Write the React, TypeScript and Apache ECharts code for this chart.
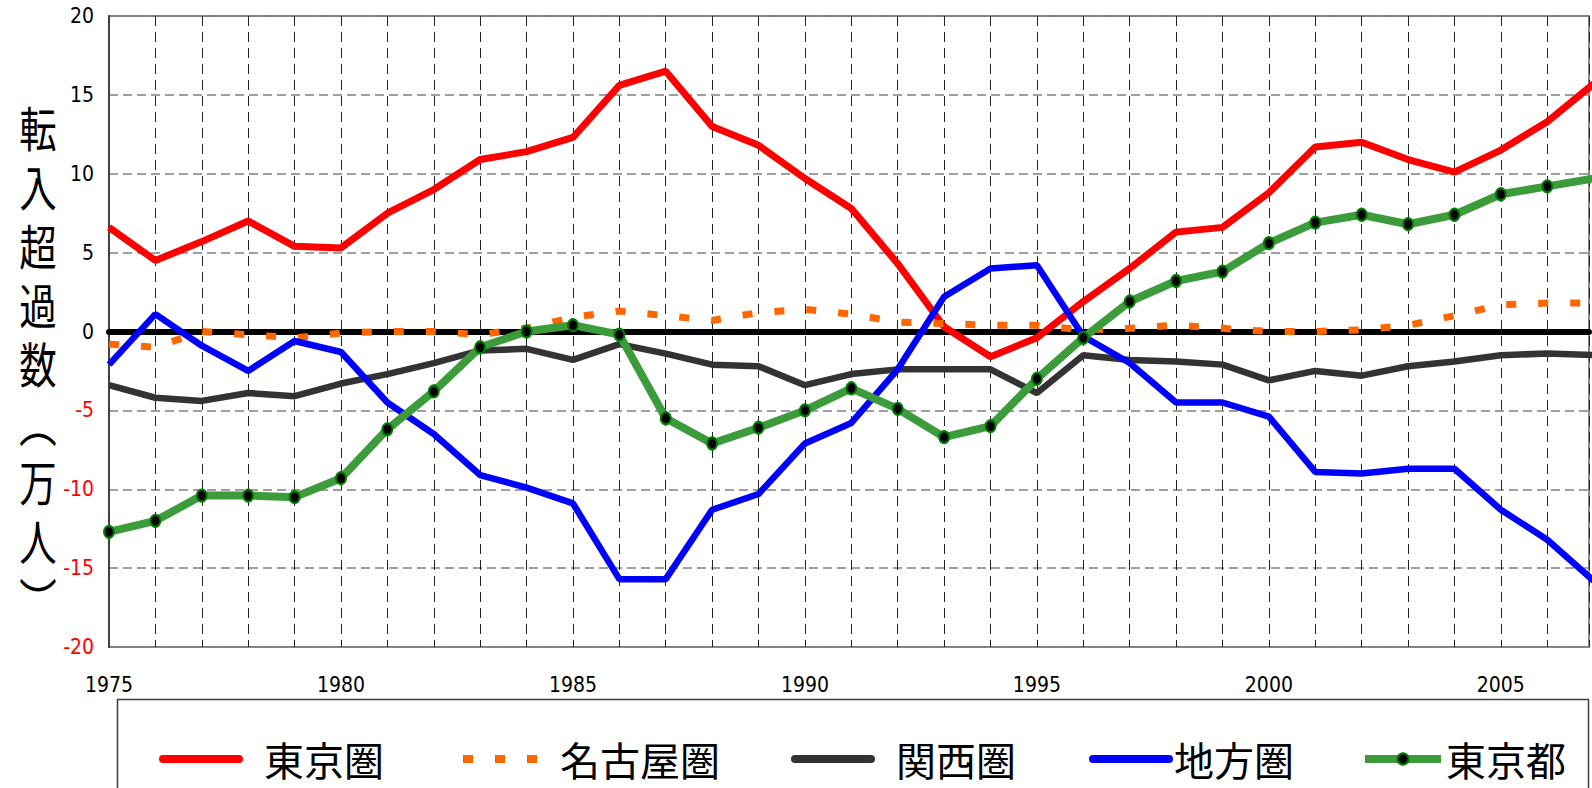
import React, { useEffect, useRef } from "react";
import * as echarts from "echarts";

const years = [1975, 1976, 1977, 1978, 1979, 1980, 1981, 1982, 1983, 1984, 1985, 1986, 1987, 1988, 1989, 1990, 1991, 1992, 1993, 1994, 1995, 1996, 1997, 1998, 1999, 2000, 2001, 2002, 2003, 2004, 2005, 2006, 2007];

const tokyoKen = [6.6, 4.5, 5.7, 7.0, 5.4, 5.3, 7.5, 9.0, 10.9, 11.4, 12.3, 15.6, 16.5, 13.0, 11.8, 9.7, 7.8, 4.3, 0.3, -1.6, -0.4, 1.9, 4.0, 6.3, 6.6, 8.8, 11.7, 12.0, 10.9, 10.1, 11.5, 13.3, 15.7];
const nagoyaKen = [-0.8, -1.0, 0.0, -0.2, -0.4, -0.1, 0.0, 0.0, -0.2, 0.2, 0.9, 1.3, 1.0, 0.7, 1.2, 1.4, 1.1, 0.6, 0.5, 0.4, 0.4, 0.1, 0.2, 0.4, 0.2, 0.0, 0.0, 0.1, 0.4, 1.0, 1.7, 1.8, 1.8];
const kansaiKen = [-3.4, -4.2, -4.4, -3.9, -4.1, -3.3, -2.7, -2.0, -1.2, -1.1, -1.8, -0.8, -1.4, -2.1, -2.2, -3.4, -2.7, -2.4, -2.4, -2.4, -3.9, -1.5, -1.8, -1.9, -2.1, -3.1, -2.5, -2.8, -2.2, -1.9, -1.5, -1.4, -1.5];
const chihoKen = [-2.1, 1.1, -0.9, -2.5, -0.6, -1.3, -4.5, -6.5, -9.1, -9.9, -10.9, -15.7, -15.7, -11.3, -10.3, -7.1, -5.8, -2.4, 2.2, 4.0, 4.2, -0.3, -2.0, -4.5, -4.5, -5.4, -8.9, -9.0, -8.7, -8.7, -11.3, -13.2, -15.8];
const tokyoTo = [-12.7, -12.0, -10.4, -10.4, -10.5, -9.3, -6.2, -3.8, -1.0, 0.0, 0.4, -0.2, -5.5, -7.1, -6.1, -5.0, -3.6, -4.9, -6.7, -6.0, -3.0, -0.4, 1.9, 3.2, 3.8, 5.6, 6.9, 7.4, 6.8, 7.4, 8.7, 9.2, 9.7];

const seriesNames = ["東京圏", "名古屋圏", "関西圏", "地方圏", "東京都"];
const yTitleChars = ["転", "入", "超", "過", "数", "︵", "万", "人", "︶"];

const numFont = "'Liberation Sans Narrow', 'DejaVu Sans Condensed', 'Liberation Sans', sans-serif";
const jpFont = "'Noto Sans CJK JP', 'Noto Sans', sans-serif";

const pairs = (vals: number[]) => years.map((y, i) => [y, vals[i]]);

export default function App() {
  const ref = useRef<HTMLDivElement>(null);
  useEffect(() => {
    if (!ref.current) return;
    const chart = echarts.init(ref.current, null, { renderer: "svg" });

    const legendBase = (name: string, left: number, gap: number, extra: any = {}) => ({
      show: true,
      data: [{ name, ...(extra.item || {}) }],
      left,
      top: 739,
      orient: "horizontal",
      padding: 0,
      itemWidth: 76,
      itemHeight: 14,
      selectedMode: false,
      lineStyle: extra.lineStyle || { width: 8, cap: "round" },
      formatter: gap > 0 ? "{g|}{t|{name}}" : "{t|{name}}",
      textStyle: {
        fontSize: 40,
        fontFamily: jpFont,
        color: "#000",
        rich: {
          g: { width: gap, height: 10 },
          t: { fontSize: 40, fontFamily: jpFont, color: "#000" },
        },
      },
    });

    const hideSym = { itemStyle: { opacity: 0 } };

    const option: any = {
      animation: false,
      backgroundColor: "#ffffff",
      grid: {
        left: 109,
        top: 16,
        right: -4,
        bottom: 141,
        show: true,
        borderColor: "#888888",
        borderWidth: 2,
        backgroundColor: "transparent",
      },
      xAxis: [
        {
          type: "value",
          min: 1975,
          max: 2006.9,
          interval: 1,
          axisLine: { show: false, onZero: false },
          axisTick: { show: false },
          axisLabel: {
            formatter: (v: number) => (Math.abs(v % 5) < 1e-9 ? String(v) : ""),
            margin: 27,
            fontSize: 21,
            fontFamily: numFont,
            color: "#000",
          },
          splitLine: { show: true, lineStyle: { color: "#222222", type: [10, 6], width: 1 } },
        },
        {
          type: "value",
          min: 1975,
          max: 2006.9,
          position: "top",
          axisLine: { show: true, onZero: true, lineStyle: { color: "#000000", width: 6 } },
          axisTick: { show: false },
          axisLabel: { show: false },
          splitLine: { show: false },
        },
      ],
      yAxis: {
        type: "value",
        min: -20,
        max: 20,
        interval: 5,
        axisLine: { show: true, onZero: false, lineStyle: { color: "#404040", width: 2 } },
        axisTick: { show: false },
        axisLabel: {
          margin: 15,
          fontSize: 21,
          fontFamily: numFont,
          color: (v: any) => (parseFloat(v) < 0 ? "#ff0000" : "#000000"),
          padding: [6, 0, 0, 0],
        },
        splitLine: { show: true, lineStyle: { color: "#808080", type: [9, 5], width: 1.5 } },
      },
      legend: [
        legendBase(seriesNames[0], 159, 20, { item: hideSym }),
        legendBase(seriesNames[1], 459, 16, { item: hideSym, lineStyle: { width: 8, cap: "butt" } }),
        legendBase(seriesNames[2], 791, 20, { item: hideSym }),
        legendBase(seriesNames[3], 1089, 0, { item: hideSym }),
        legendBase(seriesNames[4], 1361, 0, { lineStyle: { width: 8, cap: "butt" } }),
      ],
      graphic: [
        {
          type: "polyline",
          silent: true,
          z: -1,
          shape: { points: [[117.5, 788], [117.5, 699.5], [1588.5, 699.5], [1588.5, 788]] },
          style: { fill: "none", stroke: "#404040", lineWidth: 1.5 },
        },
        {
          type: "text",
          silent: true,
          x: 38,
          y: 96,
          scaleX: 0.78,
          style: {
            text: yTitleChars.join("\n"),
            fontSize: 48,
            fontFamily: jpFont,
            fill: "#000",
            align: "center",
            verticalAlign: "top",
            lineHeight: 59,
          },
        },
      ],
      series: [
        {
          name: seriesNames[0],
          type: "line",
          data: pairs(tokyoKen),
          symbol: "none",
          color: "#ff0000",
          lineStyle: { color: "#ff0000", width: 7 },
          z: 3,
        },
        {
          name: seriesNames[1],
          type: "line",
          data: pairs(nagoyaKen),
          symbol: "none",
          color: "#ff6600",
          lineStyle: { color: "#ff6600", width: 7, type: [10, 22], cap: "butt" },
          z: 3,
        },
        {
          name: seriesNames[2],
          type: "line",
          data: pairs(kansaiKen),
          symbol: "none",
          color: "#333333",
          lineStyle: { color: "#333333", width: 6.5 },
          z: 3,
        },
        {
          name: seriesNames[3],
          type: "line",
          data: pairs(chihoKen),
          symbol: "none",
          color: "#0000ff",
          lineStyle: { color: "#0000ff", width: 6.5 },
          z: 3,
        },
        {
          name: seriesNames[4],
          type: "line",
          data: pairs(tokyoTo),
          symbol: "circle",
          symbolSize: [10, 12],
          showSymbol: true,
          color: "#000000",
          itemStyle: { color: "#000000", borderColor: "#008000", borderWidth: 2 },
          lineStyle: { color: "#3c9c3c", width: 8 },
          z: 4,
        },
      ],
    };

    chart.setOption(option);
    return () => chart.dispose();
  }, []);

  return (
    <div style={{ position: "fixed", left: 0, top: 0, width: 1592, height: 788, overflow: "hidden", background: "#fff" }}>
      <div ref={ref} style={{ width: 1592, height: 788 }} />
    </div>
  );
}
